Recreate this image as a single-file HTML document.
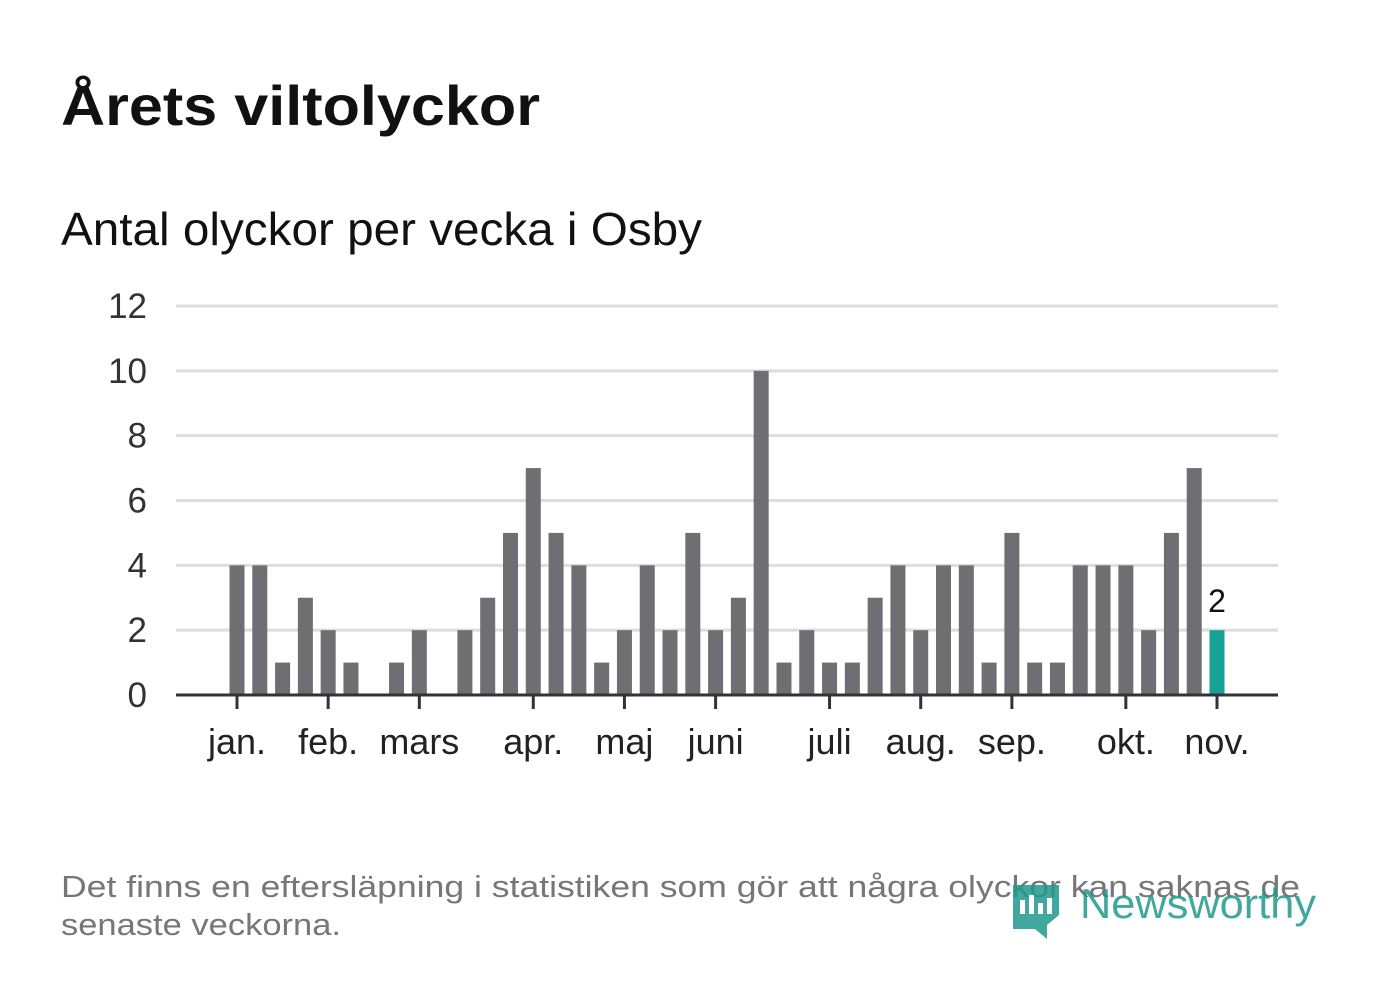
<!DOCTYPE html>
<html><head><meta charset="utf-8"><style>
body{margin:0;background:#fff;width:1382px;height:999px;overflow:hidden;font-family:"Liberation Sans",sans-serif;}
svg{position:absolute;left:0;top:0}
</style></head><body>
<svg width="1382" height="999">
<text x="61" y="125" font-size="56" font-weight="bold" fill="#111" textLength="479" lengthAdjust="spacingAndGlyphs">Årets viltolyckor</text>
<text x="61" y="245" font-size="46" fill="#111" textLength="641" lengthAdjust="spacingAndGlyphs">Antal olyckor per vecka i Osby</text>
<g id="grid"></g><g id="bars"></g><g id="xaxis"></g>
<text x="61" y="897" font-size="31" fill="#777" textLength="1239" lengthAdjust="spacingAndGlyphs">Det finns en eftersläpning i statistiken som gör att några olyckor kan saknas de</text>
<text x="61" y="935" font-size="31" fill="#777" textLength="280" lengthAdjust="spacingAndGlyphs">senaste veckorna.</text>
<g opacity="0.85">
<path d="M1013 885 h46 v30 l-12 10 v14 l-12 -10 h-22 z" fill="#1f9a8c"/>
<rect x="1020" y="900" width="5" height="14" fill="#fff"/><rect x="1029" y="895" width="5" height="19" fill="#fff"/><rect x="1038" y="903" width="5" height="11" fill="#fff"/><rect x="1047" y="898" width="5" height="16" fill="#fff"/>
<text x="1080" y="918" font-size="42" fill="#1f9a8c" textLength="236" lengthAdjust="spacingAndGlyphs">Newsworthy</text>
</g>
</svg>
<script>
const values=[4,4,1,3,2,1,0,1,2,0,2,3,5,7,5,4,1,2,4,2,5,2,3,10,1,2,1,1,3,4,2,4,4,1,5,1,1,4,4,4,2,5,7,2];
const yTicks=[0,2,4,6,8,10,12];
const monthLabels=["jan.","feb.","mars","apr.","maj","juni","juli","aug.","sep.","okt.","nov."];
const monthIdx=[0,4,8,13,17,21,26,30,34,39,43];
const NS="http://www.w3.org/2000/svg";
const x=i=>237+i*(1217-237)/(values.length-1);
const y=v=>695-v*(695-306)/12;
function mk(t,a,p){const e=document.createElementNS(NS,t);for(const k in a)e.setAttribute(k,a[k]);p.appendChild(e);return e;}
const g=document.getElementById('grid'),b=document.getElementById('bars'),xa=document.getElementById('xaxis');
yTicks.forEach(v=>{
 if(v>0){const l=mk('line',{x1:176,x2:1278,y1:y(v),y2:y(v),stroke:'#ddd','stroke-width':3},g);
 
 }
 const t=mk('text',{x:147,y:y(v)+12,'font-size':35,fill:'#333','text-anchor':'end'},g);t.textContent=v;
 
 
});
values.forEach((v,i)=>{
 const last=i===values.length-1;
 const r=mk('rect',{x:x(i)-7.5,y:y(v),width:15,height:y(0)-y(v),fill:last?'#16a294':'#6f6e73'},b);
 
 
 if(last){const t=mk('text',{x:x(i),y:y(v)-18,'font-size':32,fill:'#111','text-anchor':'middle'},b);t.textContent=v;
 
 }
});
const ax=mk('line',{x1:176,x2:1278,y1:695,y2:695,stroke:'#333','stroke-width':3},xa);


monthIdx.forEach((m,k)=>{
 mk('line',{x1:x(m),x2:x(m),y1:695,y2:709,stroke:'#333','stroke-width':3},xa);
 const t=mk('text',{x:x(m),y:754,'font-size':36,fill:'#222','text-anchor':'middle'},xa);t.textContent=monthLabels[k];
 
 
});
</script>
</body></html>
